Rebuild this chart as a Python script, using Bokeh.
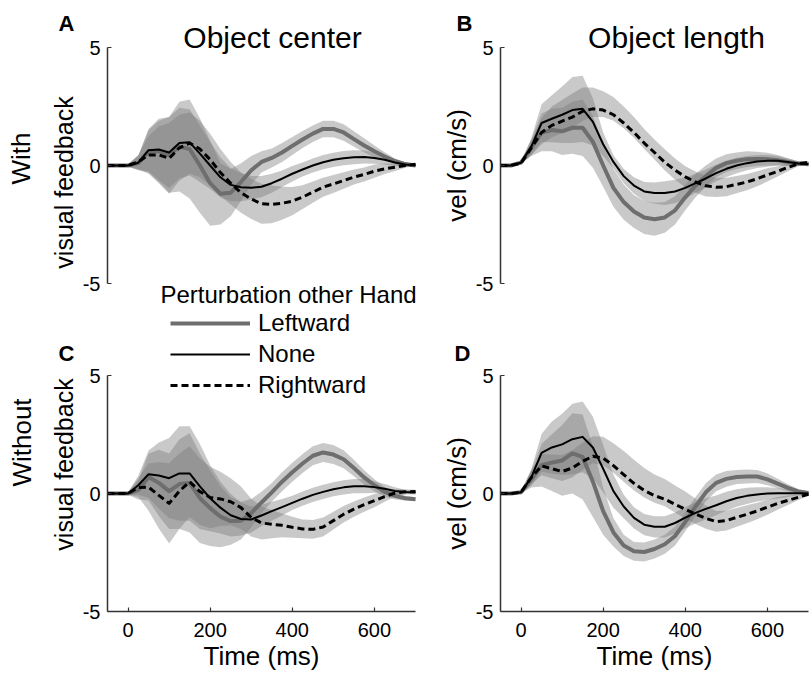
import numpy as np
from bokeh.plotting import figure
from bokeh.layouts import gridplot
from bokeh.models import Range1d, Label, Legend, LegendItem, FixedTicker
from bokeh.core.properties import value
from bokeh.embed import file_html
from bokeh.resources import INLINE

# ---------------- data ----------------
time_ms = [-50, -25, 0, 25, 50, 75, 100, 125, 150, 175, 200, 225, 250, 275, 300,
           325, 350, 375, 400, 425, 450, 475, 500, 525, 550, 575, 600, 625, 650, 675, 700]
x_ticks = [0, 200, 400, 600]
x_tick_labels = ["0", "200", "400", "600"]
y_ticks = [-5, 0, 5]
y_tick_labels = ["-5", "0", "5"]
series_names = ["Leftward", "None", "Rightward"]
legend_title = "Perturbation other Hand"
col_titles = ["Object center", "Object length"]
row_titles = [["With", "visual feedback"], ["Without", "visual feedback"]]
panel_letters = ["A", "B", "C", "D"]
y_label = "vel (cm/s)"
x_label = "Time (ms)"

# Panel A: object center, with visual feedback
a_left = [0, 0, 0, 0.1, 0.6, 0.6, 0.45, 0.8, 0.7, 0.0, -0.75, -1.2, -1.15, -0.7, -0.2, 0.15,
          0.32, 0.55, 0.83, 1.1, 1.35, 1.55, 1.55, 1.4, 1.12, 0.85, 0.6, 0.38, 0.18, 0.06, 0]
a_none = [0, 0, 0, 0.12, 0.65, 0.68, 0.55, 0.95, 0.98, 0.5, 0.0, -0.5, -0.82, -0.92, -0.94, -0.9,
          -0.75, -0.56, -0.35, -0.17, 0.0, 0.14, 0.24, 0.31, 0.35, 0.36, 0.32, 0.24, 0.13, 0.04, 0]
a_right = [0, 0, 0, 0.15, 0.45, 0.45, 0.3, 0.75, 0.95, 0.7, 0.25, -0.3, -0.75, -1.15, -1.42, -1.62,
           -1.65, -1.6, -1.51, -1.34, -1.13, -0.92, -0.78, -0.64, -0.49, -0.38, -0.24, -0.14, -0.07, 0.0, 0.05]
a_left_err = [0.02, 0.02, 0.05, 0.3, 0.9, 1.3, 1.6, 1.9, 2.1, 2.0, 1.8, 1.3, 1.0, 0.8, 0.6, 0.45,
              0.4, 0.4, 0.38, 0.36, 0.35, 0.35, 0.35, 0.35, 0.33, 0.3, 0.25, 0.18, 0.12, 0.08, 0.05]
a_none_err = [0.02, 0.02, 0.05, 0.3, 0.9, 1.3, 1.5, 1.5, 1.4, 1.2, 1.0, 0.85, 0.7, 0.6, 0.5, 0.45,
              0.4, 0.35, 0.33, 0.3, 0.3, 0.3, 0.3, 0.3, 0.3, 0.28, 0.25, 0.2, 0.15, 0.1, 0.05]
a_right_err = [0.02, 0.02, 0.05, 0.3, 0.8, 1.2, 1.5, 1.4, 1.3, 1.2, 1.1, 1.0, 0.9, 0.85, 0.85, 0.85,
               0.8, 0.7, 0.6, 0.5, 0.45, 0.4, 0.38, 0.35, 0.32, 0.3, 0.28, 0.22, 0.16, 0.1, 0.05]

# Panel B: object length, with visual feedback
b_left = [0, 0, 0.12, 0.75, 1.4, 1.5, 1.45, 1.6, 1.6, 1.0, 0.0, -0.95, -1.55, -1.95, -2.2, -2.28,
          -2.2, -1.9, -1.35, -0.85, -0.45, -0.1, 0.1, 0.2, 0.27, 0.28, 0.27, 0.22, 0.15, 0.08, 0.05]
b_none = [0, 0, 0.12, 0.8, 1.8, 1.98, 2.15, 2.35, 2.4, 1.85, 0.9, 0.15, -0.45, -0.85, -1.1, -1.17,
          -1.17, -1.1, -0.95, -0.75, -0.55, -0.32, -0.14, 0, 0.1, 0.17, 0.2, 0.2, 0.15, 0.08, 0.05]
b_right = [0, 0, 0.1, 0.75, 1.4, 1.7, 1.88, 2.05, 2.3, 2.4, 2.35, 2.15, 1.8, 1.4, 0.95, 0.55,
           0.14, -0.2, -0.48, -0.7, -0.86, -0.92, -0.9, -0.8, -0.7, -0.56, -0.4, -0.25, -0.08, 0.07, 0.14]
b_left_err = [0.02, 0.02, 0.05, 0.35, 0.8, 0.9, 1.0, 1.1, 1.2, 1.1, 0.9, 0.8, 0.75, 0.7, 0.7, 0.7,
              0.65, 0.6, 0.55, 0.5, 0.45, 0.4, 0.38, 0.35, 0.33, 0.3, 0.27, 0.22, 0.16, 0.1, 0.05]
b_none_err = [0.02, 0.02, 0.05, 0.35, 0.8, 1.0, 1.2, 1.4, 1.4, 1.0, 0.5, 0.28, 0.3, 0.35, 0.4, 0.45,
              0.5, 0.5, 0.45, 0.4, 0.38, 0.35, 0.35, 0.33, 0.3, 0.28, 0.25, 0.2, 0.15, 0.1, 0.05]
b_right_err_dn = [0.02, 0.02, 0.05, 0.3, 0.5, 0.5, 0.5, 0.45, 0.4, 0.35, 0.3, 0.25, 0.22, 0.22, 0.25, 0.3,
                  0.35, 0.4, 0.45, 0.45, 0.45, 0.42, 0.4, 0.38, 0.35, 0.32, 0.28, 0.22, 0.16, 0.1, 0.05]
b_right_err_up = [0.02, 0.02, 0.05, 0.3, 0.6, 0.8, 0.9, 1.0, 1.0, 0.9, 0.8, 0.75, 0.7, 0.65, 0.6, 0.55,
                  0.55, 0.5, 0.45, 0.45, 0.42, 0.4, 0.38, 0.36, 0.34, 0.32, 0.28, 0.22, 0.16, 0.1, 0.05]

# Panel C: object center, without visual feedback
c_left = [0, 0, 0, 0.15, 0.7, 0.45, 0.1, 0.4, 0.45, -0.2, -0.62, -0.98, -1.17, -1.15, -0.83, -0.38,
          0.05, 0.5, 0.9, 1.27, 1.6, 1.74, 1.65, 1.45, 1.08, 0.68, 0.35, 0.07, -0.1, -0.2, -0.24]
c_none = [0, 0, 0, 0.35, 0.82, 0.76, 0.65, 0.85, 0.85, 0.3, -0.2, -0.6, -0.92, -1.08, -1.1, -0.93,
          -0.75, -0.58, -0.4, -0.22, -0.06, 0.07, 0.18, 0.26, 0.31, 0.31, 0.27, 0.2, 0.11, 0.06, 0.04]
c_right = [0, 0, 0, 0.25, 0.27, -0.08, -0.42, 0.1, 0.5, 0.08, -0.17, -0.23, -0.35, -0.6, -1.02, -1.25,
           -1.3, -1.35, -1.43, -1.5, -1.52, -1.42, -1.15, -0.88, -0.66, -0.47, -0.3, -0.13, 0.02, 0.07, 0.08]
c_left_err = [0.02, 0.02, 0.05, 0.4, 1.0, 1.4, 1.6, 1.9, 2.1, 1.9, 1.6, 1.3, 1.0, 0.8, 0.6, 0.45,
              0.4, 0.4, 0.4, 0.4, 0.4, 0.4, 0.4, 0.38, 0.35, 0.3, 0.25, 0.2, 0.15, 0.1, 0.08]
c_none_err = [0.02, 0.02, 0.05, 0.4, 1.0, 1.4, 1.7, 2.0, 2.0, 1.8, 1.4, 1.1, 0.9, 0.7, 0.55, 0.45,
              0.4, 0.35, 0.3, 0.3, 0.3, 0.3, 0.3, 0.3, 0.3, 0.3, 0.25, 0.2, 0.15, 0.1, 0.08]
c_right_err = [0.02, 0.02, 0.05, 0.4, 1.0, 1.4, 1.7, 1.6, 1.5, 1.4, 1.3, 1.15, 1.0, 0.9, 0.8, 0.7,
               0.6, 0.5, 0.45, 0.4, 0.4, 0.4, 0.38, 0.35, 0.32, 0.3, 0.28, 0.22, 0.16, 0.1, 0.08]

# Panel D: object length, without visual feedback
d_left = [0, 0, 0.05, 0.6, 1.2, 1.31, 1.4, 1.7, 1.55, 0.5, -0.75, -1.65, -2.2, -2.45, -2.48, -2.35,
          -2.15, -1.8, -1.2, -0.55, 0.05, 0.45, 0.62, 0.7, 0.72, 0.72, 0.6, 0.42, 0.24, 0.09, 0.02]
d_none = [0, 0, 0.05, 0.68, 1.72, 1.95, 2.08, 2.3, 2.4, 1.95, 1.05, 0.1, -0.55, -1.03, -1.32, -1.41,
          -1.41, -1.25, -1.02, -0.82, -0.65, -0.5, -0.33, -0.19, -0.1, -0.04, 0, 0.01, 0.01, 0.01, 0]
d_right = [0, 0, 0.05, 0.68, 1.17, 1.05, 0.93, 1.08, 1.36, 1.58, 1.5, 1.18, 0.8, 0.43, 0.13, -0.09,
           -0.24, -0.46, -0.67, -0.87, -1.06, -1.19, -1.15, -1.01, -0.88, -0.74, -0.58, -0.42, -0.29, -0.16, -0.03]
d_left_err = [0.02, 0.02, 0.05, 0.35, 0.9, 1.2, 1.5, 1.7, 1.8, 1.5, 1.0, 0.6, 0.45, 0.4, 0.4, 0.4,
              0.4, 0.4, 0.4, 0.4, 0.38, 0.35, 0.33, 0.3, 0.3, 0.28, 0.25, 0.2, 0.15, 0.1, 0.05]
d_none_err = [0.02, 0.02, 0.05, 0.35, 0.8, 1.1, 1.3, 1.5, 1.5, 1.3, 1.0, 0.7, 0.5, 0.45, 0.45, 0.45,
              0.45, 0.45, 0.45, 0.45, 0.45, 0.42, 0.4, 0.37, 0.34, 0.3, 0.27, 0.22, 0.16, 0.1, 0.05]
d_right_err_up = [0.02, 0.02, 0.05, 0.3, 0.5, 0.6, 0.7, 0.75, 0.8, 0.85, 0.9, 0.95, 1.0, 1.0, 0.95, 0.9,
                  0.85, 0.8, 0.75, 0.65, 0.55, 0.45, 0.42, 0.4, 0.38, 0.35, 0.32, 0.27, 0.2, 0.12, 0.05]
d_right_err_dn = [0.02, 0.02, 0.05, 0.3, 0.4, 0.4, 0.4, 0.4, 0.35, 0.3, 0.3, 0.3, 0.3, 0.3, 0.3, 0.3,
                  0.3, 0.35, 0.4, 0.42, 0.43, 0.43, 0.42, 0.4, 0.38, 0.35, 0.32, 0.27, 0.2, 0.12, 0.05]

# ---------------- layout / style ----------------
FONT = "Liberation Sans"
T_MIN, T_MAX = -50, 700
V_MIN, V_MAX = -5, 5
FRAME_W, FRAME_H = 308, 236   # pixel size of the data box (-50..700 x -5..5)
ROW_SPLIT = 308
# each figure covers canvas box [x0,x1]x[y0,y1]; data box starts at (fl, ft)
LAYOUT = {
    "A": dict(x0=0, x1=440, y0=0, y1=ROW_SPLIT, fl=107, ft=47),
    "B": dict(x0=440, x1=810, y0=0, y1=ROW_SPLIT, fl=500, ft=47),
    "C": dict(x0=0, x1=440, y0=ROW_SPLIT, y1=684, fl=107, ft=375),
    "D": dict(x0=440, x1=810, y0=ROW_SPLIT, y1=684, fl=500, ft=375),
}

BAND_COLOR = "#777777"
BAND_ALPHA = 0.4
LINE_STYLE = {
    "Leftward": dict(line_color="#6e6e6e", line_width=4),
    "None": dict(line_color="black", line_width=2),
    "Rightward": dict(line_color="black", line_width=3, line_dash="7 4"),
}
AXIS_COLOR = "#333333"


def t_of(L, cx):
    return T_MIN + (cx - L["fl"]) * (T_MAX - T_MIN) / FRAME_W


def v_of(L, cy):
    return V_MAX - (cy - L["ft"]) * (V_MAX - V_MIN) / FRAME_H


def add_text(p, L, cx, cy, text, size, align="left", baseline="alphabetic",
             angle=0, font=FONT, style="normal"):
    p.add_layout(Label(x=t_of(L, cx), y=v_of(L, cy), text=text, text_font=font,
                       text_font_size=size, text_align=align, text_baseline=baseline,
                       angle=angle, angle_units="deg", text_font_style=style,
                       text_color="black"))


def style_axis(ax, label=None, label_size="26px", label_standoff=1, tick_standoff=6):
    ax.axis_line_color = AXIS_COLOR
    ax.axis_line_width = 1.5
    ax.major_tick_line_color = AXIS_COLOR
    ax.major_tick_line_width = 1.2
    ax.major_tick_in = 4
    ax.major_tick_out = 0
    ax.minor_tick_line_color = None
    ax.major_label_text_font = FONT
    ax.major_label_text_font_size = "20px"
    ax.major_label_text_color = "black"
    ax.major_label_standoff = tick_standoff
    if label:
        ax.axis_label = label
        ax.axis_label_text_font = FONT
        ax.axis_label_text_font_size = label_size
        ax.axis_label_text_font_style = "normal"
        ax.axis_label_text_color = "black"
        ax.axis_label_standoff = label_standoff


def make_panel(key, series, has_xaxis, has_ylabel):
    L = LAYOUT[key]
    p = figure(width=L["x1"] - L["x0"], height=L["y1"] - L["y0"],
               x_range=Range1d(t_of(L, L["x0"]), t_of(L, L["x1"])),
               y_range=Range1d(v_of(L, L["y1"]), v_of(L, L["y0"])),
               output_backend="svg", toolbar_location=None,
               x_axis_location=("below" if has_xaxis else None),
               y_axis_location="left", min_border=0)
    p.min_border_left = p.min_border_right = p.min_border_top = p.min_border_bottom = 0
    p.outline_line_color = None
    p.grid.visible = False
    p.background_fill_color = "white"
    p.border_fill_color = "white"

    x = np.array(time_ms, dtype=float)
    for name, (mean, e_dn, e_up) in zip(series_names, series):
        m = np.array(mean, dtype=float)
        p.varea(x=x, y1=m - np.array(e_dn), y2=m + np.array(e_up),
                fill_color=BAND_COLOR, fill_alpha=BAND_ALPHA)
    renderers = []
    for name, (mean, e_dn, e_up) in zip(series_names, series):
        r = p.line(x, np.array(mean, dtype=float), line_join="round", **LINE_STYLE[name])
        renderers.append(r)

    yax = p.yaxis[0]
    yax.fixed_location = T_MIN
    yax.bounds = (V_MIN, V_MAX)
    yax.ticker = FixedTicker(ticks=y_ticks, minor_ticks=[])
    yax.major_label_overrides = dict(zip(y_ticks, y_tick_labels))
    style_axis(yax, y_label if has_ylabel else None, label_size="26px",
               label_standoff=1, tick_standoff=7)

    if has_xaxis:
        xax = p.xaxis[0]
        xax.fixed_location = V_MIN
        xax.bounds = (T_MIN, T_MAX)
        xax.ticker = FixedTicker(ticks=x_ticks, minor_ticks=[])
        xax.major_label_overrides = dict(zip(x_ticks, x_tick_labels))
        style_axis(xax, x_label, label_size="26px", label_standoff=1, tick_standoff=11)
    return p, renderers, L


pA, _, LA = make_panel("A", [(a_left, a_left_err, a_left_err),
                             (a_none, a_none_err, a_none_err),
                             (a_right, a_right_err, a_right_err)], False, False)
pB, _, LB = make_panel("B", [(b_left, b_left_err, b_left_err),
                             (b_none, b_none_err, b_none_err),
                             (b_right, b_right_err_dn, b_right_err_up)], False, True)
pC, rC, LC = make_panel("C", [(c_left, c_left_err, c_left_err),
                              (c_none, c_none_err, c_none_err),
                              (c_right, c_right_err, c_right_err)], True, False)
pD, _, LD = make_panel("D", [(d_left, d_left_err, d_left_err),
                             (d_none, d_none_err, d_none_err),
                             (d_right, d_right_err_dn, d_right_err_up)], True, True)

# panel letters
add_text(pA, LA, 58, 23, panel_letters[0], "22px", style="bold")
add_text(pB, LB, 456, 23, panel_letters[1], "22px", style="bold")
add_text(pC, LC, 58, 353, panel_letters[2], "22px", style="bold")
add_text(pD, LD, 454, 353, panel_letters[3], "22px", style="bold")

# column titles
add_text(pA, LA, 272, 37, col_titles[0], "30px", align="center")
add_text(pB, LB, 676, 37, col_titles[1], "30px", align="center")

# row titles (rotated, reading upwards)
add_text(pA, LA, 20, 158, row_titles[0][0], "26px", align="center", angle=90)
add_text(pA, LA, 63, 182, row_titles[0][1], "25px", align="center", angle=90)
add_text(pC, LC, 21, 442, row_titles[1][0], "26px", align="center", angle=90)
add_text(pC, LC, 63, 464, row_titles[1][1], "25px", align="center", angle=90)

# legend title + legend (in panel C's canvas)
add_text(pA, LA, 160, 294, legend_title, "24px")
legend_top = 309
legend_h = 3 * 28 + 2 * 3
legend = Legend(items=[LegendItem(label=value(n), renderers=[r]) for n, r in zip(series_names, rC)],
                location=(170 - LC["x0"], LC["y1"] - (legend_top + legend_h)),
                orientation="vertical",
                glyph_width=80, glyph_height=28, label_height=28, label_standoff=8,
                spacing=3, padding=0, margin=0,
                background_fill_alpha=0, border_line_alpha=0,
                label_text_font=FONT, label_text_font_size="24px", label_text_color="black")
pC.add_layout(legend)

grid = gridplot([[pA, pB], [pC, pD]], toolbar_location=None)
open("out.html", "w").write(file_html(grid, INLINE))
